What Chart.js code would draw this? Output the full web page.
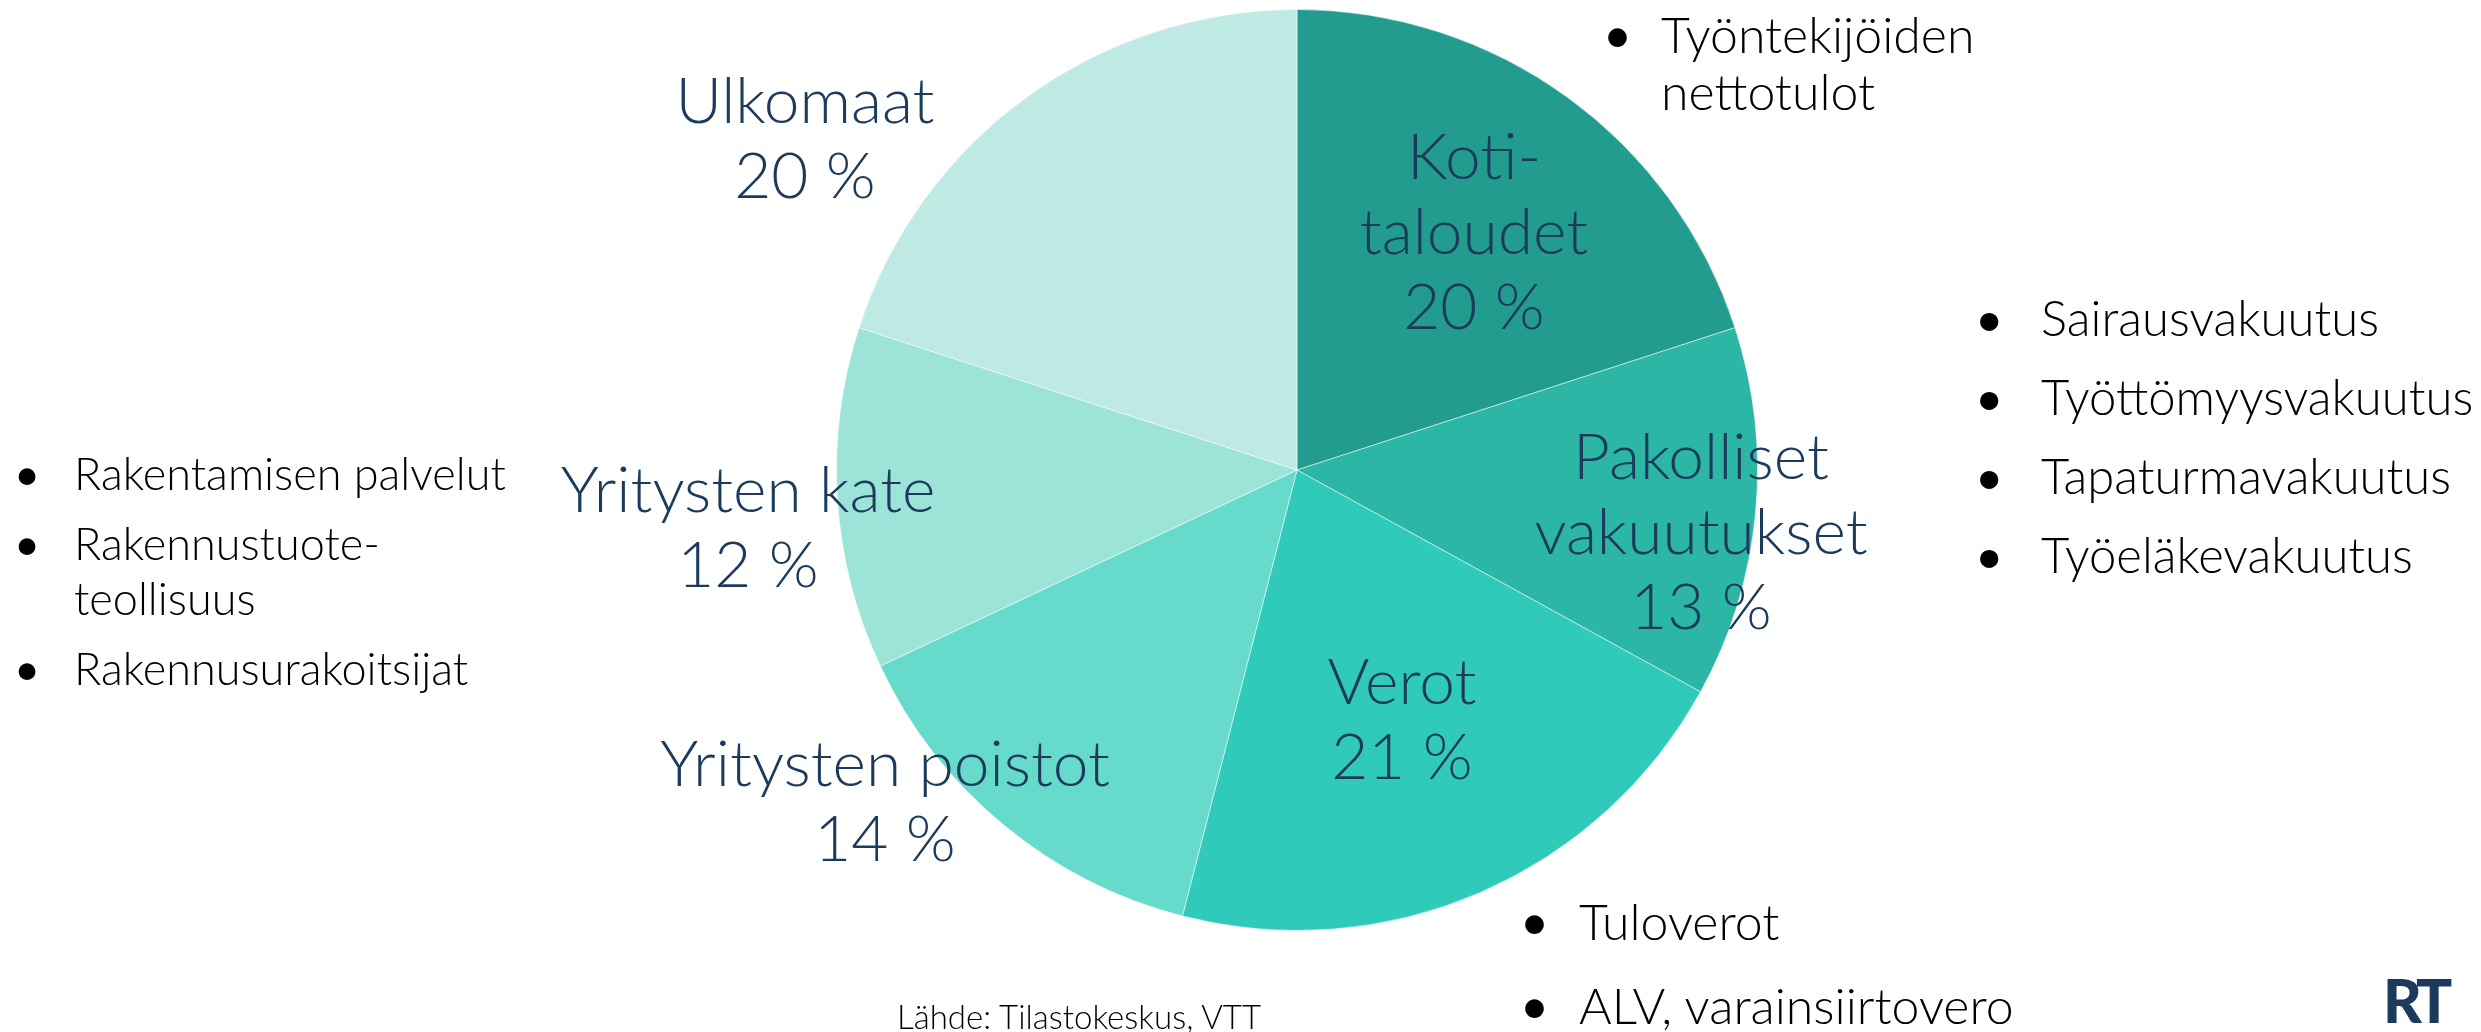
<!DOCTYPE html>
<html lang="fi">
<head>
<meta charset="utf-8">
<script src="https://cdn.jsdelivr.net/npm/chart.js@4"></script>
<style>
  body { margin: 0; background: #fff; overflow: hidden; }
  #wrap { position: relative; width: 2481px; height: 1032px; }
  #pie { position: absolute; left: 0; top: 0; }
  .list { position: absolute; font-family: Lato, "Open Sans", sans-serif; font-weight: 300; color: #000; margin: 0; padding: 0; list-style: none; }
  .list li { position: relative; }
  .list li::before { content: "\2022"; position: absolute; left: 0; top: 0; font-weight: 400; }
  #source { position: absolute; left: 897px; top: 996px; font-family: Lato, sans-serif; font-weight: 300; font-size: 33px; color: #000; }
  #logo { position: absolute; left: 2383px; top: 964px; font-family: Lato, sans-serif; font-weight: 900; font-size: 60px; color: #1b3a5c; letter-spacing: -5px; }
</style>
</head>
<body>
<div id="wrap">
  <canvas id="pie" width="2481" height="1032"></canvas>
  <ul class="list" id="listTop"></ul>
  <ul class="list" id="listRight"></ul>
  <ul class="list" id="listLeft"></ul>
  <ul class="list" id="listBottom"></ul>
  <div id="source">Lähde: Tilastokeskus, VTT</div>
  <div id="logo">RT</div>
</div>
<script>
  // slices, clockwise from the top
  const categories = ["Kotitaloudet", "Pakolliset vakuutukset", "Verot", "Yritysten poistot", "Yritysten kate", "Ulkomaat"];
  const labelLines = [["Koti-", "taloudet"], ["Pakolliset", "vakuutukset"], ["Verot"], ["Yritysten poistot"], ["Yritysten kate"], ["Ulkomaat"]];
  const shares = [20, 13, 21, 14, 12, 20];
  const sliceColors = ["#229c8e", "#2bb6a5", "#30cabb", "#66dbcb", "#9de4d8", "#bfeae3"];

  // bullet notes next to the pie
  const notesTop = ["Työntekijöiden<br>nettotulot"];
  const notesRight = ["Sairausvakuutus", "Työttömyysvakuutus", "Tapaturmavakuutus", "Työeläkevakuutus"];
  const notesLeft = ["Rakentamisen palvelut", "Rakennustuote-<br>teollisuus", "Rakennusurakoitsijat"];
  const notesBottom = ["Tuloverot", "ALV, varainsiirtovero"];

  // where each label sits, relative to the pie centre
  const labelOffsets = [[177, -237], [404, 63], [105, 251], [-412, 333], [-549, 59], [-492, -330]];

  function fillList(id, items, cfg) {
    const ul = document.getElementById(id);
    ul.style.left = cfg.x + "px";
    ul.style.top = cfg.y + "px";
    ul.style.fontSize = cfg.size + "px";
    ul.style.lineHeight = cfg.lh + "px";
    items.forEach(function (t) {
      const li = document.createElement("li");
      li.innerHTML = t;
      li.style.paddingLeft = cfg.indent + "px";
      li.style.marginBottom = cfg.gap + "px";
      ul.appendChild(li);
    });
  }

  fillList("listTop", notesTop, { x: 1603, y: 6, size: 50, lh: 57, indent: 58, gap: 0 });
  fillList("listRight", notesRight, { x: 1975, y: 289, size: 49, lh: 57, indent: 66, gap: 22 });
  fillList("listLeft", notesLeft, { x: 14, y: 446, size: 45, lh: 55, indent: 60, gap: 15 });
  fillList("listBottom", notesBottom, { x: 1520, y: 893, size: 50, lh: 57, indent: 59, gap: 27 });

  const sliceLabels = {
    id: "sliceLabels",
    afterDraw(chart) {
      const ctx = chart.ctx;
      const arcs = chart.getDatasetMeta(0).data;
      ctx.save();
      ctx.fillStyle = "#1b3a5c";
      ctx.font = "300 64px Lato, 'Open Sans', sans-serif";
      ctx.textAlign = "center";
      ctx.textBaseline = "middle";
      const lh = 75;
      arcs.forEach(function (arc, i) {
        const lines = labelLines[i].concat([shares[i] + " %"]);
        const cx = arc.x + labelOffsets[i][0];
        const cy = arc.y + labelOffsets[i][1];
        const y0 = cy - (lines.length - 1) * lh / 2;
        lines.forEach(function (t, k) {
          ctx.fillText(t, cx, y0 + k * lh);
        });
      });
      ctx.restore();
    }
  };

  new Chart(document.getElementById("pie"), {
    type: "pie",
    data: {
      labels: categories,
      datasets: [{
        data: shares,
        backgroundColor: sliceColors,
        borderColor: "rgba(255,255,255,0.5)",
        borderWidth: 1
      }]
    },
    options: {
      responsive: false,
      animation: false,
      layout: { padding: { left: 836, right: 723, top: 9, bottom: 101 } },
      plugins: { legend: { display: false }, tooltip: { enabled: false } }
    },
    plugins: [sliceLabels]
  });
</script>
</body>
</html>
